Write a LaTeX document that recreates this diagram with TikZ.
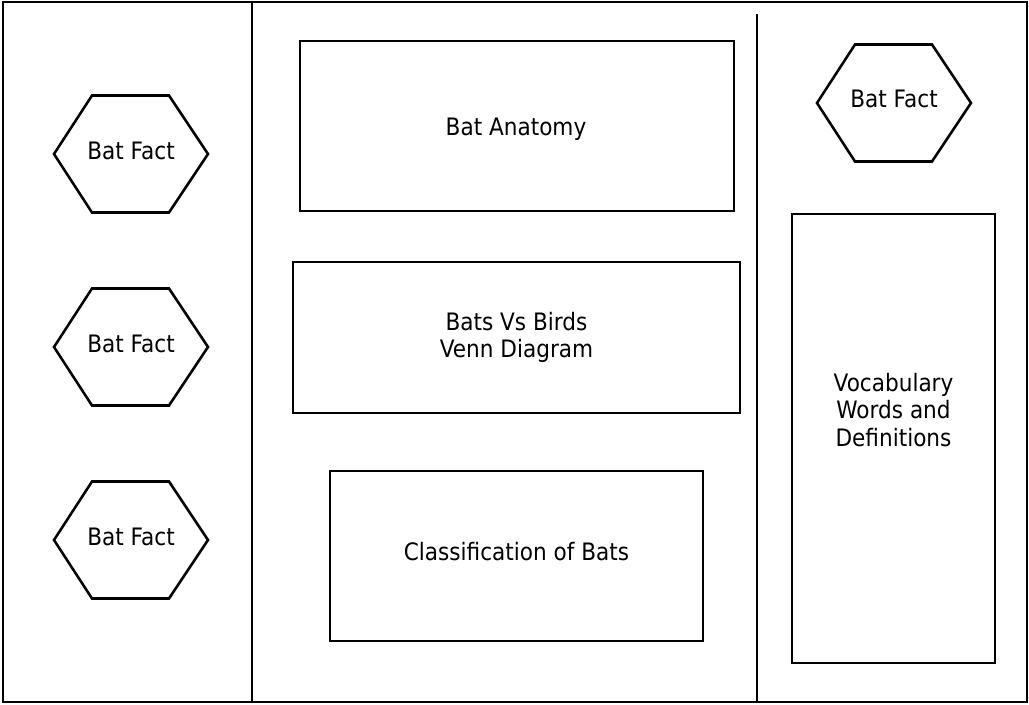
\documentclass[tikz,border=0pt]{standalone}
\usepackage{fontspec}
\setmainfont{DejaVu Sans}[FakeStretch=0.9]
\usepackage{tikz}
\usetikzlibrary{positioning}
\tikzstyle{panel} = [draw, line width=1.9pt, inner sep=0pt, align=center]
\tikzstyle{rule} = [line width=1.9pt]
\tikzstyle{hexline} = [line width=1.9pt, line join=miter]

\begin{document}
\begin{tikzpicture}[x=0.75pt, y=-0.75pt, font=\fontsize{18}{20.5}\selectfont]
        \useasboundingbox (0,0) rectangle (1029,704);
        % outer frame and column rules
        \draw[rule] (3,2) rectangle (1027,702);
        \draw[rule] (252,2) -- (252,702);
        \draw[rule] (757,14) -- (757,702);
        % left column facts
        \foreach \y/\n in {154/1, 347/2, 540/3} {
            \draw[hexline] (54,\y) -- ++(38,-58.5) -- ++(77,0) -- ++(39,58.5) -- ++(-39,58.5) -- ++(-77,0) -- cycle;
            \node (fact\n) at (131,\y-3) {Bat Fact};
        }
        % middle column
        \node[panel, minimum width=325.5pt, minimum height=127.5pt] (anatomy) at (517,126) {};
        \node (anatomytext) at (516,129) {Bat Anatomy};
        \node[panel, minimum width=335.25pt, minimum height=113.25pt] (venn) at (516.5,337.5) {Bats Vs Birds\\Venn Diagram};
        \node[panel, minimum width=279.75pt, minimum height=127.5pt] (classes) at (516.5,556) {};
        \node (classestext) at (516.5,552) {Classification of Bats};
        % right column
        \draw[hexline] (817,103) -- ++(38,-58.5) -- ++(77,0) -- ++(39,58.5) -- ++(-39,58.5) -- ++(-77,0) -- cycle;
        \node (fact4) at (894,99) {Bat Fact};
        \node[panel, minimum width=152.25pt, minimum height=336.75pt] (vocab) at (893.5,438.5) {};
        \node[align=center] (vocabtext) at (893.5,410) {Vocabulary\\Words and\\Definitions};
\end{tikzpicture}
\end{document}
